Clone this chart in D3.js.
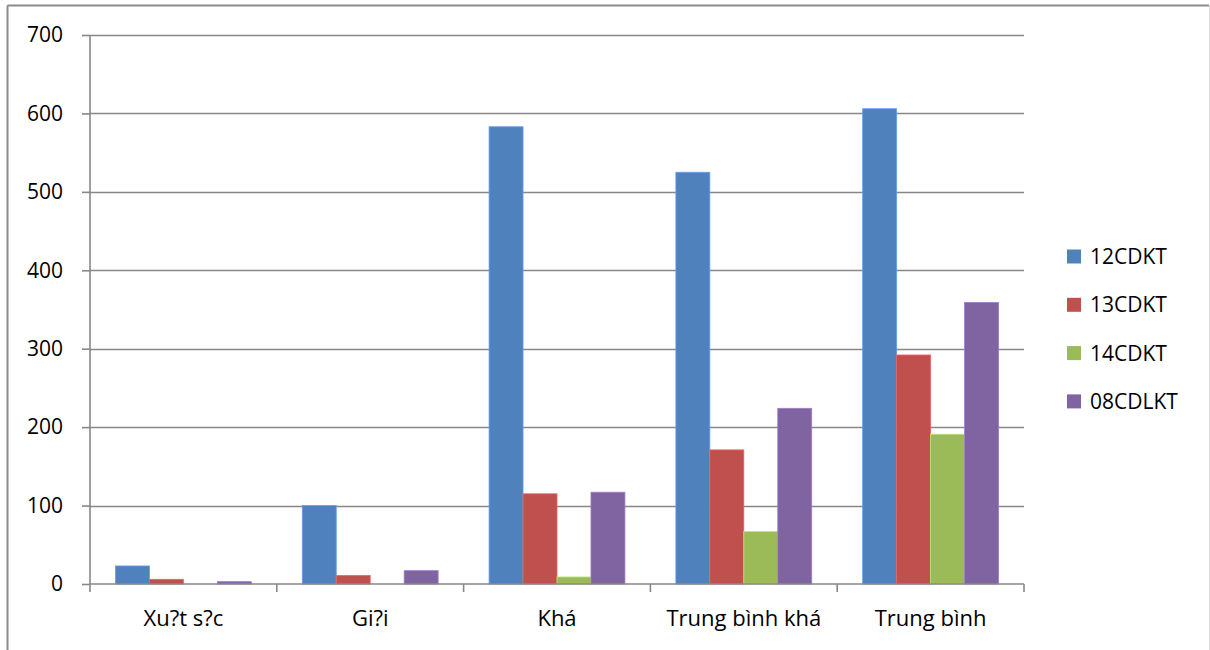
<!DOCTYPE html>
<html>
<head>
<meta charset="utf-8">
<script src="https://cdn.jsdelivr.net/npm/d3@7"></script>
<style>
  html, body { margin: 0; padding: 0; background: #fff; }
  svg { display: block; }
  text { font-family: "Open Sans", "Liberation Sans", Arial, sans-serif; fill: #000; }
</style>
</head>
<body>
<svg id="chart" width="1210" height="650"></svg>
<script>
// Student results by classification, per cohort
const categories = ["Xu?t s?c", "Gi?i", "Khá", "Trung bình khá", "Trung bình"];
const seriesNames = ["12CDKT", "13CDKT", "14CDKT", "08CDLKT"];
const values12CDKT = [23, 100, 583, 525, 606];
const values13CDKT = [6, 11, 115, 171, 292];
const values14CDKT = [0, 0, 9, 67, 191];
const values08CDLKT = [3, 17, 117, 224, 359];
const yTicks = [0, 100, 200, 300, 400, 500, 600, 700];
const colors = ["#4F81BD", "#C0504D", "#9BBB59", "#8064A2"];

const seriesValues = [values12CDKT, values13CDKT, values14CDKT, values08CDLKT];

const svg = d3.select("#chart");
const plot = { left: 90, right: 1024, top: 35, bottom: 584 };
const FONT = "Open Sans, Liberation Sans, Arial, sans-serif";

// Outer frame
svg.append("line").attr("x1", 7.5).attr("x2", 7.5).attr("y1", 5.5).attr("y2", 650)
  .attr("stroke", "#8c8c8c").attr("stroke-width", 2);
svg.append("line").attr("x1", 7.5).attr("x2", 1209).attr("y1", 5.5).attr("y2", 5.5)
  .attr("stroke", "#8c8c8c").attr("stroke-width", 2);
svg.append("line").attr("x1", 1209.5).attr("x2", 1209.5).attr("y1", 5.5).attr("y2", 650)
  .attr("stroke", "#dcdcdc").attr("stroke-width", 1);

const y = d3.scaleLinear().domain([0, 700]).range([plot.bottom, plot.top]);
const x0 = d3.scaleBand().domain(categories).range([plot.left, plot.right]).paddingInner(0).paddingOuter(0);
// Gap of 150% of a bar width between groups
const groupW = x0.bandwidth();
const barW = groupW / (seriesNames.length + 1.5);
const x1 = d3.scaleBand().domain(seriesNames)
  .range([barW * 0.75, barW * 0.75 + barW * seriesNames.length])
  .padding(0);

// Horizontal gridlines
svg.append("g").selectAll("line").data(yTicks.filter(d => d > 0)).join("line")
  .attr("x1", plot.left).attr("x2", plot.right)
  .attr("y1", d => Math.round(y(d)) + 0.5).attr("y2", d => Math.round(y(d)) + 0.5)
  .attr("stroke", "#878787").attr("stroke-width", 1.6);

// Bars
const groups = svg.append("g").selectAll("g").data(categories).join("g")
  .attr("transform", c => `translate(${x0(c)},0)`);
groups.selectAll("rect")
  .data((c, i) => seriesNames.map((s, k) => ({ s, k, v: seriesValues[k][i] })))
  .join("rect")
  .attr("x", d => x1(d.s))
  .attr("width", x1.bandwidth())
  .attr("y", d => y(d.v))
  .attr("height", d => y(0) - y(d.v))
  .attr("fill", d => colors[d.k])
  .attr("stroke", d => d3.color(colors[d.k]).brighter(0.6))
  .attr("stroke-width", d => d.v > 0 ? 0.8 : 0);

// Y axis
const yAxis = d3.axisLeft(y).tickValues(yTicks).tickSize(8).tickPadding(19).tickFormat(d3.format("d"));
const yg = svg.append("g").attr("transform", `translate(${plot.left},0)`).call(yAxis);
yg.select(".domain").attr("stroke", "#878787").attr("stroke-width", 1.6).attr("d", `M0,${plot.top}V${plot.bottom}`);
yg.selectAll(".tick line").attr("stroke", "#878787").attr("stroke-width", 1.6);
yg.selectAll(".tick text").attr("font-size", 21).attr("font-family", FONT).attr("fill", "#000");

// X axis with boundary tick marks between categories
const xg = svg.append("g").attr("transform", `translate(0,${plot.bottom})`);
xg.append("line").attr("x1", plot.left).attr("x2", plot.right).attr("y1", 0).attr("y2", 0)
  .attr("stroke", "#878787").attr("stroke-width", 1.6);
const bounds = [plot.left].concat(categories.map(c => x0(c) + groupW));
xg.selectAll("line.tk").data(bounds).join("line").attr("class", "tk")
  .attr("x1", d => d).attr("x2", d => d).attr("y1", 0).attr("y2", 8)
  .attr("stroke", "#878787").attr("stroke-width", 1.6);
xg.selectAll("text").data(categories).join("text")
  .attr("x", c => x0(c) + groupW / 2).attr("y", 42)
  .attr("text-anchor", "middle").attr("font-size", 22)
  .text(c => c);

// Legend
const legend = svg.append("g").attr("transform", "translate(1067,0)");
const lg = legend.selectAll("g").data(seriesNames).join("g")
  .attr("transform", (d, i) => `translate(0,${256.5 + i * 48.3})`);
lg.append("rect").attr("x", 0).attr("y", -7).attr("width", 14).attr("height", 14)
  .attr("fill", (d, i) => colors[i]);
lg.append("text").attr("x", 23).attr("y", 0).attr("dy", "0.36em").attr("font-size", 21).text(d => d);
</script>
</body>
</html>
